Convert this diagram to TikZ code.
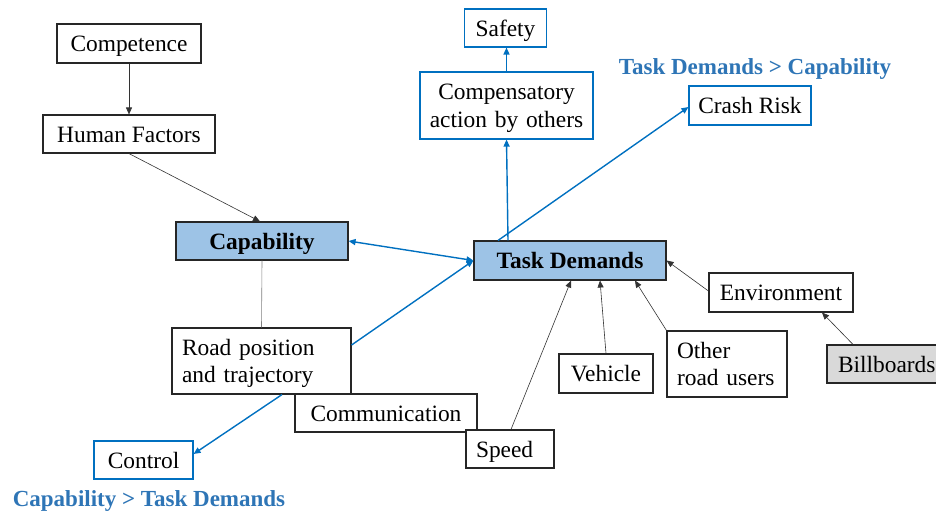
\documentclass[tikz,border=0pt]{standalone}
\usepackage{fontspec}
\setmainfont{Liberation Serif}
\usetikzlibrary{arrows.meta,calc}
\definecolor{lineblue}{HTML}{0070C0}
\definecolor{labelblue}{HTML}{2E75B6}
\definecolor{fillblue}{HTML}{9DC3E6}
\definecolor{fillgray}{HTML}{D9D9D9}
\begin{document}
\begin{tikzpicture}[x=1pt,y=-1pt,
  box/.style={draw=black!85, line width=1.1pt, fill=white, inner sep=0pt,
    font=\fontsize{23.4}{27.5}\selectfont, align=center, text height=21pt, text depth=5pt},
  twoline/.style={text depth=32.5pt},
  bluebox/.style={box, draw=lineblue},
  keybox/.style={box, fill=fillblue, font=\fontsize{23.4}{27.5}\selectfont\bfseries},
  lbl/.style={inner sep=0pt, text=labelblue, font=\fontsize{23}{27}\selectfont\bfseries},
  blk/.style={draw=black!80, line width=0.6pt, -{Triangle[length=7pt,width=6pt]}},
  bl/.style={draw=lineblue, line width=1.4pt, -{Triangle[length=7pt,width=6pt]}},
  gline/.style={draw=black!50, line width=0.6pt}
]
\useasboundingbox (0,0) rectangle (936,512);

\node[box, minimum width=144pt, minimum height=39pt] (comp) at (129,43.5) {Competence};
\node[box, minimum width=172pt, minimum height=38pt] (hf) at (129,134) {Human Factors};
\node[keybox, minimum width=172pt, minimum height=38pt] (cap) at (262,241) {Capability};
\node[bluebox, minimum width=82pt, minimum height=38pt] (safety) at (505.5,28) {Safety};
\node[bluebox, twoline, minimum width=173pt, minimum height=67pt, text width=160pt, align=center] (compens) at (506.5,105.5) {Compensatory\\action by others};
\node[bluebox, minimum width=122pt, minimum height=39pt] (crash) at (750,105.5) {Crash Risk};
\node[keybox, minimum width=192pt, minimum height=39pt] (td) at (570,260.5) {Task Demands};
\node[box, twoline, minimum width=179pt, minimum height=66pt, text width=159pt, align=left] (road) at (261.5,361) {Road position\\and trajectory};
\node[box, minimum width=182pt, minimum height=38pt] (commun) at (386,413) {Communication};
\node[box, minimum width=88pt, minimum height=38pt, text width=68pt, align=left] (speed) at (510,449) {Speed};
\node[bluebox, minimum width=99pt, minimum height=38pt] (control) at (143.5,460) {Control};
\node[box, minimum width=144pt, minimum height=39pt] (env) at (781,292.5) {Environment};
\node[box, fill=fillgray, minimum width=123pt, minimum height=38pt, text width=101pt, align=left] (bill) at (888.5,364) {Billboards};
\node[box, minimum width=94pt, minimum height=39pt] (vehicle) at (606,373.5) {Vehicle};
\node[box, twoline, minimum width=120pt, minimum height=66pt, text width=100pt, align=left] (other) at (727,364) {Other\\road users};

\node[lbl] (lab1) at (755,69) {Task Demands > Capability};
\node[lbl] (lab2) at (149,501) {Capability > Task Demands};

\draw[blk] (comp.south) -- (hf.north);
\draw[blk] (hf.south) -- ([xshift=-2pt]cap.north);
\draw[gline] (cap.south) -- (road.north);
\draw[bl] (compens.north) -- (compens.north |- safety.south);
\draw[bl] ([xshift=-62pt]td.north) -- (compens.south);
\draw[bl] ([xshift=-72pt]td.north) -- ([yshift=-1.5pt]crash.west);
\draw[bl, {Triangle[length=7pt,width=6pt]}-{Triangle[length=7pt,width=6pt]}] (cap.east) -- (td.west);
\draw[bl] ([yshift=16pt]road.east) -- (td.west);
\draw[bl] ([xshift=20.5pt]road.south) -- ([yshift=6pt]control.east);
\draw[blk] ([yshift=1.5pt]env.west) -- (td.east);
\draw[blk] ([xshift=-35.5pt]bill.north) -- ([xshift=41pt]env.south);
\draw[blk] (other.north west) -- ([xshift=65pt]td.south);
\draw[blk] (vehicle.north) -- ([xshift=30pt]td.south);
\draw[blk] ([xshift=1pt]speed.north) -- ([xshift=1pt]td.south);
\end{tikzpicture}
\end{document}
